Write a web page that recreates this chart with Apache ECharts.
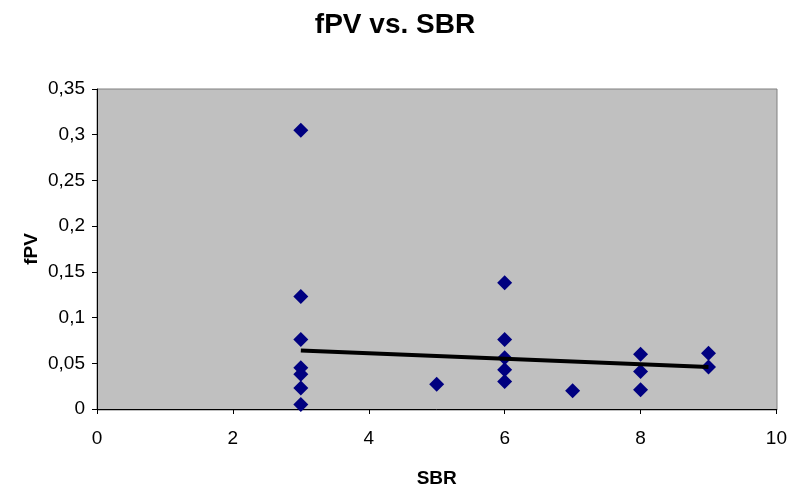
<!DOCTYPE html>
<html>
<head>
<meta charset="utf-8">
<script src="https://cdn.jsdelivr.net/npm/echarts@6/dist/echarts.min.js"></script>
<style>
  html, body { margin: 0; padding: 0; background: #fff; }
  #chart { width: 790px; height: 493px; }
</style>
</head>
<body>
<div id="chart"></div>
<script>
// SBR / fPV pairs
const sbr = [3, 3, 3, 3, 3, 3, 3, 5, 6, 6, 6, 6, 6, 7, 8, 8, 8, 9, 9];
const fpv = [0.305, 0.123, 0.076, 0.045, 0.038, 0.023, 0.005, 0.027, 0.138, 0.076, 0.056, 0.043, 0.030, 0.020, 0.060, 0.041, 0.021, 0.061, 0.046];
// trend line end points
const trendX = [3, 9];
const trendY = [0.064, 0.046];

const chart = echarts.init(document.getElementById('chart'));
const font = 'Liberation Sans, Arial, sans-serif';

const option = {
  animation: false,
  title: {
    text: 'fPV vs. SBR',
    left: 'center',
    top: 6,
    textStyle: { fontFamily: font, fontSize: 28, fontWeight: 'bold', color: '#000' }
  },
  grid: { left: 97, right: 13, top: 89, bottom: 83 },
  xAxis: {
    type: 'value',
    min: 0, max: 10, interval: 2,
    name: 'SBR',
    nameLocation: 'middle',
    nameGap: 60,
    nameTextStyle: { fontFamily: font, fontSize: 19, fontWeight: 'bold', color: '#000' },
    axisLine: { lineStyle: { color: '#000', width: 1 } },
    axisTick: { show: true, length: 5, lineStyle: { color: '#000' } },
    axisLabel: { fontFamily: font, fontSize: 19, color: '#000', margin: 20 },
    splitLine: { show: false }
  },
  yAxis: {
    type: 'value',
    min: 0, max: 0.35, interval: 0.05,
    name: 'fPV',
    nameLocation: 'middle',
    nameGap: 56,
    nameRotate: 90,
    nameMoveOverlap: false,
    nameTextStyle: { fontFamily: font, fontSize: 19, fontWeight: 'bold', color: '#000' },
    axisLine: { show: true, lineStyle: { color: '#000', width: 1 } },
    axisTick: { show: true, length: 5, lineStyle: { color: '#000' } },
    axisLabel: {
      fontFamily: font, fontSize: 19, color: '#000', margin: 12,
      formatter: v => String(+v.toFixed(2)).replace('.', ',')
    },
    splitLine: { show: false }
  },
  graphic: [{
    type: 'rect',
    shape: { x: 97, y: 89, width: 680, height: 321 },
    style: { fill: '#C0C0C0', stroke: '#808080', lineWidth: 1 },
    z: -10
  }],
  series: [
    {
      type: 'scatter',
      symbol: 'diamond',
      symbolSize: 15,
      itemStyle: { color: '#000080', opacity: 1 },
      data: sbr.map((x, i) => [x, fpv[i]]),
      z: 3
    },
    {
      type: 'line',
      symbol: 'none',
      lineStyle: { color: '#000', width: 4 },
      data: trendX.map((x, i) => [x, trendY[i]]),
      z: 4
    }
  ]
};
chart.setOption(option);
</script>
</body>
</html>
